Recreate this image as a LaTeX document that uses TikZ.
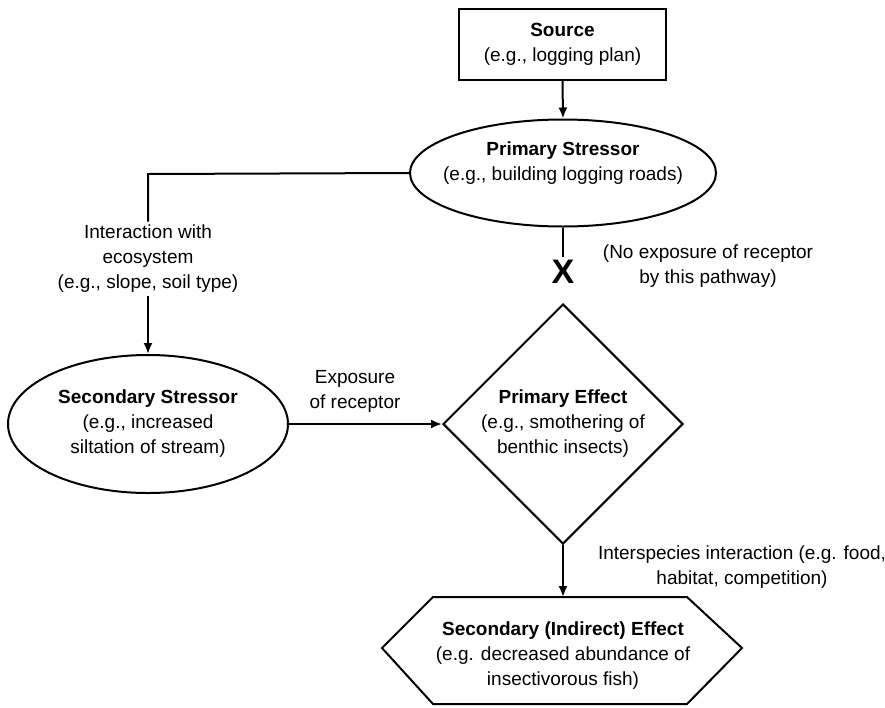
\documentclass[tikz,border=0pt]{standalone}
\usepackage{fontspec}
\setmainfont{Liberation Sans}
\usetikzlibrary{shapes.geometric,arrows.meta}
\begin{document}
\begin{tikzpicture}[x=1pt,y=-1pt,
  every node/.style={font=\fontsize{19}{25}\selectfont, align=center},
  shapebox/.style={draw, line width=2pt, inner sep=0pt},
  conn/.style={line width=2pt},
  arr/.style={conn, -{Latex[length=11pt,width=9pt]}}]
\useasboundingbox (0,0) rectangle (885,707);
% Source
\node[shapebox, rectangle, minimum width=207pt, minimum height=71pt] (src) at (562.5,44.5) {\textbf{Source}\\(e.g., logging plan)};
% Primary stressor
\node[shapebox, ellipse, minimum width=306pt, minimum height=107pt] (ps) at (563,173) {};
\node (pst) at (563,163) {\textbf{Primary Stressor}\\(e.g., building logging roads)};
\draw[arr] (src.south) -- (ps.north);
% Interaction branch
\coordinate (bend) at (148,174);
\node (inter) at (148,259) {Interaction with\\ecosystem\\(e.g., slope, soil type)};
\draw[conn] (ps.west) -- (bend) -- (inter.north);
% Secondary stressor
\node[shapebox, ellipse, minimum width=280pt, minimum height=138pt] (ss) at (148,424) {\textbf{Secondary Stressor}\\(e.g., increased\\siltation of stream)};
\draw[arr] (inter.south) -- (ss.north);
% Primary effect
\node[shapebox, diamond, minimum width=240pt, minimum height=240pt] (pe) at (563,424) {\textbf{Primary Effect}\\(e.g., smothering of\\benthic insects)};
\node (exp) at (355,391) {Exposure\\of receptor};
\draw[arr] (ss.east) -- (pe.west);
% No exposure
\node[font=\bfseries\fontsize{34}{34}\selectfont] (x) at (563,272) {X};
\draw[conn] (ps.south) -- (x.north);
\node (noexp) at (708,266) {(No exposure of receptor\\by this pathway)};
% Secondary effect (hexagon)
\coordinate (hextop) at (563,597);
\draw[line width=2pt] (433,597) -- (687,597) -- (742,648) -- (687,704) -- (433,704) -- (382,648) -- cycle;
\node (se) at (563,656) {\textbf{Secondary (Indirect) Effect}\\(e.g. decreased abundance of\\insectivorous fish)};
\draw[arr] (pe.south) -- (hextop);
\node (inters) at (742,567) {Interspecies interaction (e.g. food,\\habitat, competition)};
\end{tikzpicture}
\end{document}
